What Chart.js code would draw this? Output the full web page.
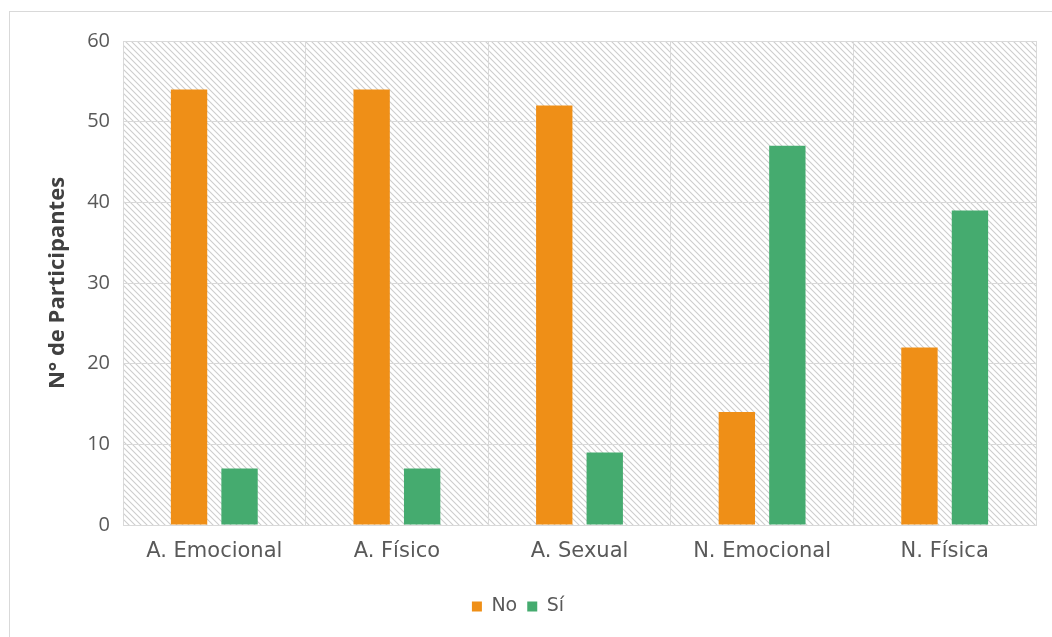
<!DOCTYPE html>
<html>
<head>
<meta charset="utf-8">
<script src="https://cdn.jsdelivr.net/npm/chart.js@4/dist/chart.umd.min.js"></script>
<style>
  html, body { margin: 0; padding: 0; background: #fff; }
  #wrap { position: relative; width: 1052px; height: 637px; }
</style>
</head>
<body>
<div id="wrap"><canvas id="c" width="1052" height="637"></canvas></div>
<script>
// Categories of maltreatment and participant counts
const categories = ['A. Emocional', 'A. Físico', 'A. Sexual', 'N. Emocional', 'N. Física'];
const noValues = [54, 54, 52, 14, 22];
const siValues = [7, 7, 9, 47, 39];
const yTicks = [0, 10, 20, 30, 40, 50, 60];

const ORANGE = '#EF8F17';
const GREEN = '#45AB6F';
const GRID = '#D9D9D9';
const TEXT = '#595959';

// Diagonal hatch fill for the plotting area
function makeHatch() {
  const s = 6;
  const c = document.createElement('canvas');
  c.width = s; c.height = s;
  const g = c.getContext('2d');
  g.fillStyle = '#ffffff';
  g.fillRect(0, 0, s, s);
  g.strokeStyle = '#cdcdcd';
  g.lineWidth = 1.1;
  g.beginPath();
  g.moveTo(-1, -1); g.lineTo(s + 1, s + 1);
  g.moveTo(-1, s - 1); g.lineTo(1, s + 1);
  g.moveTo(s - 1, -1); g.lineTo(s + 1, 1);
  g.stroke();
  return c;
}

const backdrop = {
  id: 'backdrop',
  beforeDraw(chart) {
    const { ctx, chartArea: a } = chart;
    ctx.save();
    ctx.fillStyle = '#ffffff';
    ctx.fillRect(0, 0, chart.width, chart.height);
    ctx.strokeStyle = GRID;
    ctx.lineWidth = 1;
    ctx.strokeRect(9.5, 11.5, chart.width + 20, chart.height + 20);
    ctx.fillStyle = ctx.createPattern(makeHatch(), 'repeat');
    ctx.fillRect(a.left, a.top, a.right - a.left, a.bottom - a.top);
    ctx.restore();
  }
};

new Chart(document.getElementById('c'), {
  type: 'bar',
  data: {
    labels: categories,
    datasets: [
      { label: 'No', data: noValues, backgroundColor: ORANGE, barPercentage: 0.72, categoryPercentage: 0.553 },
      { label: 'Sí', data: siValues, backgroundColor: GREEN, barPercentage: 0.72, categoryPercentage: 0.553 }
    ]
  },
  plugins: [backdrop],
  options: {
    responsive: false,
    animation: false,
    layout: { padding: { left: 0, right: 16, top: 41, bottom: 11 } },
    plugins: {
      legend: {
        position: 'bottom',
        labels: {
          boxWidth: 10, boxHeight: 10, color: TEXT, padding: 10,
          font: { family: 'DejaVu Sans', size: 19 }
        }
      },
      tooltip: { enabled: false }
    },
    scales: {
      x: {
        grid: { color: GRID, offset: true, drawTicks: false },
        border: { color: GRID },
        ticks: { color: TEXT, padding: 14, font: { family: 'DejaVu Sans', size: 21 } },
        afterFit(scale) { scale.height = 62; }
      },
      y: {
        min: 0, max: 60,
        afterBuildTicks(scale) { scale.ticks = yTicks.map(v => ({ value: v })); },
        grid: { color: GRID, drawTicks: false },
        border: { color: GRID },
        ticks: { color: TEXT, padding: 13, font: { family: 'Open Sans', size: 20 } },
        title: {
          display: true, text: 'N° de Participantes', color: '#404040',
          font: { family: 'Open Sans', size: 22, weight: 'bold' },
          padding: { top: 45, bottom: 0 }
        },
        afterFit(scale) { scale.width = 123; }
      }
    }
  }
});
</script>
</body>
</html>
